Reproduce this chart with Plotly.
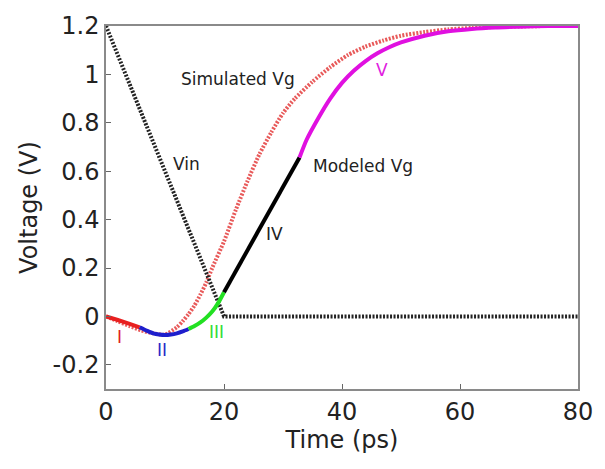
import plotly.graph_objects as go

# Vin
vin_t = [0, 20, 80]
vin_v = [1.2, 0, 0]

# Simulated Vg
sim_t = [0, 2, 4, 6, 8, 10, 12, 13, 14, 15, 16, 17, 18, 20, 22, 24, 26, 28, 30, 32, 35, 38, 41, 44, 47, 50, 54, 58, 62, 66, 70, 75, 80]
sim_v = [0, -0.02, -0.04, -0.058, -0.07, -0.075, -0.045, -0.02, 0.01, 0.045, 0.09, 0.14, 0.2, 0.31, 0.44, 0.56, 0.67, 0.76, 0.84, 0.9, 0.97, 1.03, 1.08, 1.115, 1.14, 1.16, 1.175, 1.186, 1.192, 1.196, 1.198, 1.2, 1.2]

# Modeled Vg segments
seg1_t = [0, 2, 4, 5.7]
seg1_v = [0, -0.015, -0.031, -0.045]
seg2_t = [5.7, 7, 8, 9, 10, 11, 12, 13, 14]
seg2_v = [-0.045, -0.06, -0.07, -0.075, -0.077, -0.075, -0.07, -0.062, -0.052]
seg3_t = [14, 15, 16, 17, 18, 19, 20]
seg3_v = [-0.052, -0.04, -0.025, -0.005, 0.02, 0.055, 0.1]
seg4_t = [20, 32.8]
seg4_v = [0.1, 0.657]
seg5_t = [32.8, 34, 36, 38, 40, 42, 44, 46, 48, 50, 54, 58, 62, 66, 70, 75, 80]
seg5_v = [0.657, 0.73, 0.82, 0.9, 0.965, 1.015, 1.055, 1.087, 1.112, 1.132, 1.16, 1.178, 1.188, 1.194, 1.197, 1.2, 1.2]

# Annotations
label_text = ["I", "II", "III", "IV", "V", "Simulated Vg", "Vin", "Modeled Vg"]
label_x = [2.3, 9.5, 18.8, 28.5, 46.8, 22.3, 13.7, 43.5]
label_y = [-0.085, -0.137, -0.065, 0.34, 1.02, 0.98, 0.63, 0.62]
label_color = ["#e02020", "#2828c8", "#33dd33", "#222222", "#e020e0", "#222222", "#222222", "#222222"]
label_size = [17, 17, 17, 17, 17, 17, 17, 17]

FONT = "DejaVu Sans, Arial"

fig = go.Figure()
fig.add_trace(go.Scatter(x=sim_t, y=sim_v, mode="lines",
                         line=dict(color="#e85a5a", width=4, dash="2px,1.5px", shape="spline", smoothing=0.6)))
fig.add_trace(go.Scatter(x=vin_t, y=vin_v, mode="lines",
                         line=dict(color="#222222", width=4, dash="2px,1.5px")))
for t, v, c in [(seg1_t, seg1_v, "#e82020"), (seg2_t, seg2_v, "#1e1ecc"),
                (seg3_t, seg3_v, "#22e022"), (seg4_t, seg4_v, "#000000"),
                (seg5_t, seg5_v, "#e010e0")]:
    fig.add_trace(go.Scatter(x=t, y=v, mode="lines",
                             line=dict(color=c, width=4, shape="spline", smoothing=0.6)))

for txt, x, y, c, s in zip(label_text, label_x, label_y, label_color, label_size):
    fig.add_annotation(x=x, y=y, text=txt, showarrow=False,
                       font=dict(color=c, size=s, family=FONT))

axis_common = dict(showgrid=False, zeroline=False, showline=True, mirror=True,
                   linecolor="#8a8a8a", linewidth=1.5, ticks="inside", ticklen=5,
                   tickcolor="#666666",
                   tickfont=dict(size=24, color="#222222", family=FONT))

fig.update_layout(
    width=605, height=469,
    margin=dict(l=106, r=20, t=18, b=80),
    paper_bgcolor="white", plot_bgcolor="white",
    showlegend=False,
    xaxis=dict(range=[0, 80], tickvals=[0, 20, 40, 60, 80],
               title=dict(text="Time (ps)", font=dict(size=24, color="#222222", family=FONT), standoff=6),
               **axis_common),
    yaxis=dict(range=[-0.3, 1.2], tickvals=[-0.2, 0, 0.2, 0.4, 0.6, 0.8, 1, 1.2],
               ticktext=["-0.2", "0", "0.2", "0.4", "0.6", "0.8", "1", "1.2"],
               title=dict(text="Voltage (V)", font=dict(size=24, color="#222222", family=FONT), standoff=8),
               **axis_common),
)
fig.write_html("out.html")
